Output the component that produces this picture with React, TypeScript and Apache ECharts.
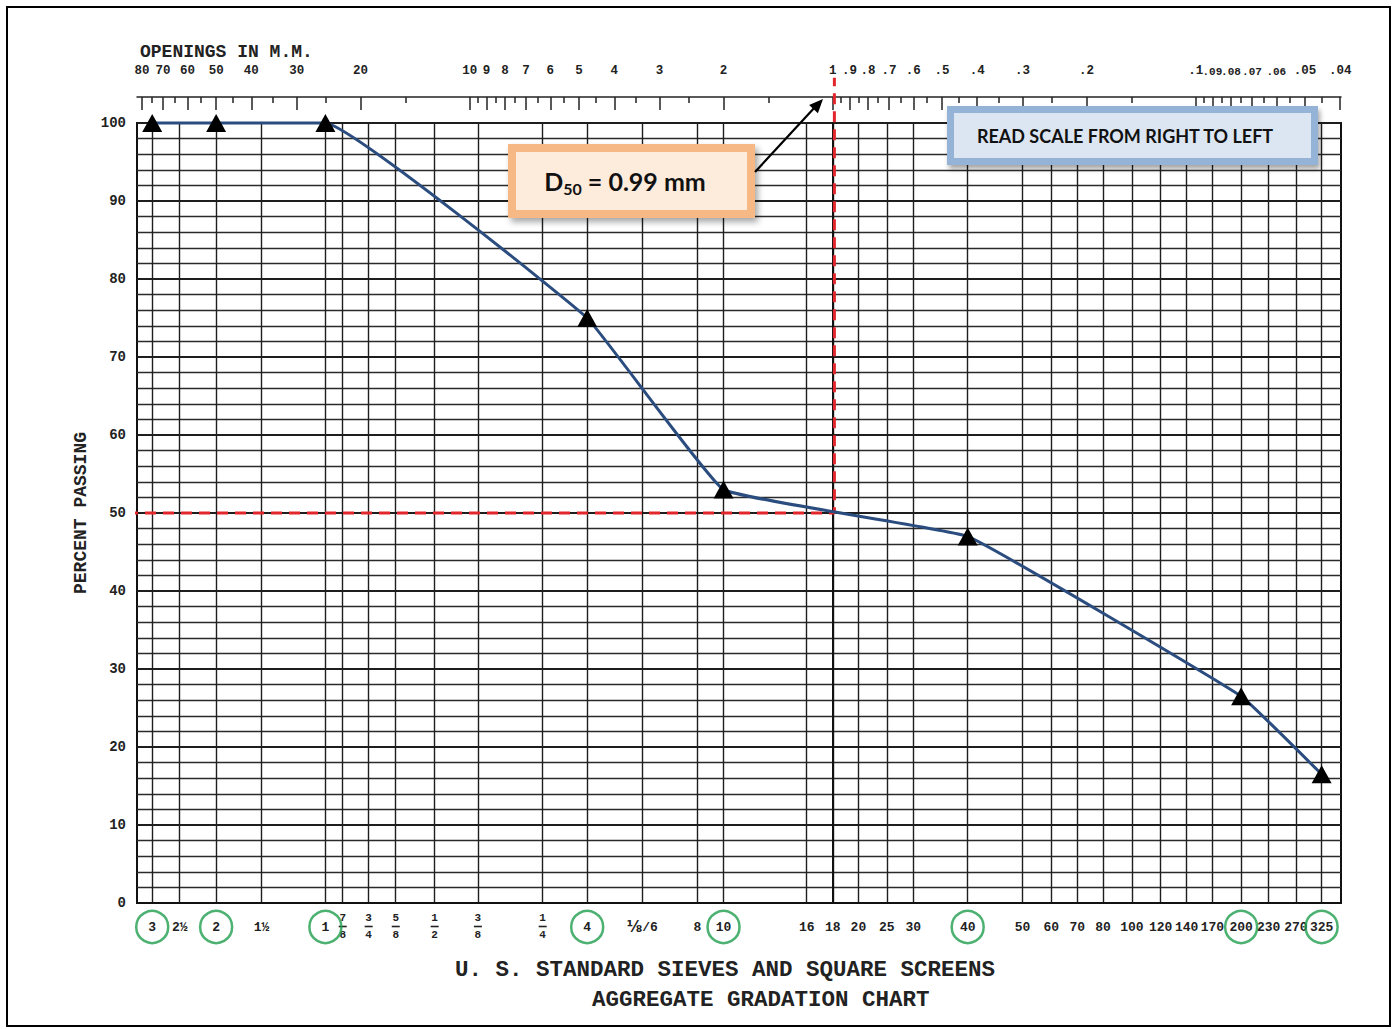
import React, { useEffect, useRef } from 'react';
import * as echarts from 'echarts';

// ---------- data ----------
const sieveLabels = ['3', '2½', '2', '1½', '1', '⅞', '¾', '⅝', '½', '⅜', '¼', '4', '⅛/6', '8', '10', '16', '18', '20', '25', '30', '40', '50', '60', '70', '80', '100', '120', '140', '170', '200', '230', '270', '325'];
const sieveOpeningsMm = [75, 63, 50, 37.5, 25, 22.4, 19, 16, 12.5, 9.5, 6.3, 4.75, 3.35, 2.36, 2.0, 1.18, 1.0, 0.85, 0.71, 0.6, 0.425, 0.3, 0.25, 0.212, 0.18, 0.15, 0.125, 0.106, 0.09, 0.075, 0.063, 0.053, 0.045];

const testedSieves = ['3', '2', '1', '4', '10', '40', '200', '325'];
const percentPassing = [100, 100, 100, 75, 53, 47, 26.5, 16.5];

const openingTicksMm = [80, 70, 60, 50, 40, 30, 20, 10, 9, 8, 7, 6, 5, 4, 3, 2, 1, 0.9, 0.8, 0.7, 0.6, 0.5, 0.4, 0.3, 0.2, 0.1, 0.09, 0.08, 0.07, 0.06, 0.05, 0.04];
const openingTickLabels = ['80', '70', '60', '50', '40', '30', '20', '10', '9', '8', '7', '6', '5', '4', '3', '2', '1', '.9', '.8', '.7', '.6', '.5', '.4', '.3', '.2', '.1', '.09', '.08', '.07', '.06', '.05', '.04'];
const openingMinorTicksMm = [75, 65, 55, 45, 35, 25, 15, 9.5, 8.5, 7.5, 6.5, 5.5, 4.5, 3.5, 2.5, 1.5, 0.95, 0.85, 0.75, 0.65, 0.55, 0.45, 0.35, 0.25, 0.15, 0.095, 0.085, 0.075, 0.065, 0.055, 0.045];
const crowdedOpeningLabels = ['.09', '.08', '.07', '.06'];

const d50Mm = 0.99;
const d50Percent = 50;
const sizeRangeMm = [0.0398, 82.6]; // finest, coarsest shown
const percentRange = [0, 100];

// stacked fractions used by the sieve labels
const fractionParts: Record<string, [string, string]> = {
  '⅞': ['7', '8'], '¾': ['3', '4'], '⅝': ['5', '8'], '½': ['1', '2'], '⅜': ['3', '8'], '¼': ['1', '4'],
};

// ---------- helpers ----------
const lg = (v: number) => Math.log10(v);
const X_MIN = lg(sizeRangeMm[0]);
const X_MAX = lg(sizeRangeMm[1]);
const key = (v: number) => v.toFixed(6);

const sieveByKey = new Map<string, string>(sieveOpeningsMm.map((mm, i) => [key(lg(mm)), sieveLabels[i]]));
const openingByKey = new Map<string, string>(openingTicksMm.map((mm, i) => [key(lg(mm)), openingTickLabels[i]]));

const MONO = '"Liberation Mono", "DejaVu Sans Mono", monospace';
const SANS = 'Lato, "Open Sans", "Noto Sans", sans-serif';
const GRID_COLOR = '#1e1e1e';

// grid geometry (px)
const GRID_TOP = 123;
const GRID_BOTTOM_Y = 903;
const LABEL_ROW_OFFSET = 24; // label row centre below the x axis
const PX_PER_PERCENT = (GRID_BOTTOM_Y - GRID_TOP) / (percentRange[1] - percentRange[0]);
const circleRowValue = percentRange[0] - LABEL_ROW_OFFSET / PX_PER_PERCENT;

const sieveLog = (s: string) => lg(sieveOpeningsMm[sieveLabels.indexOf(s)]);
const curveData = testedSieves.map((s, i) => [sieveLog(s), percentPassing[i]]);
const circleData = testedSieves.map((s) => [sieveLog(s), circleRowValue]);
const d50Data = [
  [lg(88), d50Percent],
  [lg(d50Mm), d50Percent],
  [lg(d50Mm), 105.8],
];

const baseX = {
  type: 'value' as const,
  min: X_MIN,
  max: X_MAX,
  inverse: true,
  gridIndex: 0,
};

const labelBase = { fontFamily: MONO, fontWeight: 'bold', fontSize: 13, color: '#222' };

const sieveFormatter = (v: number) => {
  const s = sieveByKey.get(key(v)) ?? '';
  if (fractionParts[s]) {
    const [a, b] = fractionParts[s];
    return `{fn|${a}}\n{fb| }\n{fd|${b}}`;
  }
  if (s === '⅛/6') return `{g|⅛}{n|/6}`;
  return `{n|${s}}`;
};

const option: any = {
  animation: false,
  backgroundColor: '#ffffff',
  textStyle: { fontFamily: MONO },
  grid: {
    left: 137,
    right: 1394 - 1341,
    top: GRID_TOP,
    bottom: 1029 - GRID_BOTTOM_Y,
    show: true,
    borderColor: '#111',
    borderWidth: 2,
    outerBoundsMode: 'none',
  },
  xAxis: [
    {
      ...baseX,
      position: 'bottom',
      axisLine: { show: true, lineStyle: { color: '#111', width: 2 } },
      axisTick: { show: false, customValues: sieveOpeningsMm.map(lg) },
      splitLine: { show: true, lineStyle: { color: GRID_COLOR, width: 1.4 } },
      axisLabel: {
        customValues: sieveOpeningsMm.map(lg),
        showMinLabel: true,
        showMaxLabel: true,
        hideOverlap: false,
        margin: 8,
        formatter: sieveFormatter,
        rich: {
          n: { ...labelBase, height: 32, lineHeight: 32, align: 'center' },
          g: { ...labelBase, fontFamily: '"DejaVu Sans", sans-serif', fontSize: 15, height: 32, lineHeight: 32 },
          fn: { ...labelBase, fontSize: 11, lineHeight: 14, height: 14, align: 'center' },
          fb: { fontSize: 1, width: 8, height: 1.6, lineHeight: 3, backgroundColor: '#222', align: 'center' },
          fd: { ...labelBase, fontSize: 11, lineHeight: 14, height: 14, align: 'center' },
        },
      },
    },
    {
      ...baseX,
      position: 'top',
      offset: 26,
      axisLine: { show: true, lineStyle: { color: '#222', width: 1.5 } },
      axisTick: { show: true, inside: true, length: 13, lineStyle: { color: '#222', width: 1.5 }, customValues: openingTicksMm.map(lg) },
      splitLine: { show: false },
      axisLabel: {
        customValues: openingTicksMm.map(lg),
        showMinLabel: true,
        showMaxLabel: true,
        margin: 20,
        ...labelBase,
        fontSize: 12.5,
        formatter: (v: number) => {
          const s = openingByKey.get(key(v)) ?? '';
          return crowdedOpeningLabels.includes(s) ? `{sm|${s}}` : s;
        },
        rich: {
          sm: { ...labelBase, fontSize: 11 },
        },
      },
    },
    {
      ...baseX,
      position: 'top',
      offset: 26,
      axisLine: { show: false },
      axisTick: { show: true, inside: true, length: 6, lineStyle: { color: '#222', width: 1.5 }, customValues: openingMinorTicksMm.map(lg) },
      splitLine: { show: false },
      axisLabel: { show: false },
    },
  ],
  yAxis: {
    type: 'value',
    min: percentRange[0],
    max: percentRange[1],
    interval: 10,
    axisLine: { show: true, lineStyle: { color: '#111', width: 2 } },
    axisTick: { show: false },
    axisLabel: { ...labelBase, fontSize: 14, margin: 11 },
    splitLine: { show: true, lineStyle: { color: GRID_COLOR, width: 2 } },
    minorTick: { show: false, splitNumber: 5 },
    minorSplitLine: { show: true, lineStyle: { color: '#2a2a2a', width: 1.3 } },
    name: 'PERCENT PASSING',
    nameLocation: 'middle',
    nameGap: 40,
    nameTextStyle: { ...labelBase, fontSize: 18 },
  },
  series: [
    {
      type: 'line',
      xAxisIndex: 0,
      yAxisIndex: 0,
      data: d50Data,
      symbol: 'none',
      clip: false,
      silent: true,
      z: 3,
      lineStyle: { color: '#e3262b', width: 3, type: [11, 7] },
    },
    {
      type: 'line',
      xAxisIndex: 0,
      yAxisIndex: 0,
      data: curveData,
      smooth: 0.08,
      clip: false,
      z: 5,
      symbol: 'triangle',
      symbolSize: [20, 18],
      itemStyle: { color: '#000' },
      lineStyle: { color: '#2b4c7e', width: 3 },
    },
    {
      type: 'scatter',
      xAxisIndex: 0,
      yAxisIndex: 0,
      data: circleData,
      clip: false,
      silent: true,
      z: 4,
      symbol: 'circle',
      symbolSize: 32,
      itemStyle: { color: 'rgba(0,0,0,0)', borderColor: '#1f9e4d', borderWidth: 2.5 },
    },
  ],
  graphic: [
    {
      type: 'rect', silent: true, z: 0,
      shape: { x: 7, y: 7, width: 1383, height: 1019 },
      style: { fill: 'none', stroke: '#000', lineWidth: 2 },
    },
    {
      type: 'text', left: 140, top: 43,
      style: { text: 'OPENINGS IN M.M.', font: `bold 18px ${MONO}`, fill: '#222' },
    },
    {
      type: 'text', left: 455, top: 958,
      style: { text: 'U. S. STANDARD SIEVES AND SQUARE SCREENS', font: `bold 22.5px ${MONO}`, fill: '#222' },
    },
    {
      type: 'text', left: 592, top: 988,
      style: { text: 'AGGREGATE GRADATION CHART', font: `bold 22.5px ${MONO}`, fill: '#222' },
    },
    // D50 callout
    {
      type: 'rect', z: 10,
      shape: { x: 512, y: 148, width: 239, height: 66 },
      style: {
        fill: '#fdebdc', stroke: '#f6b985', lineWidth: 8,
        shadowBlur: 6, shadowColor: 'rgba(0,0,0,0.35)', shadowOffsetX: 3, shadowOffsetY: 4,
      },
    },
    {
      type: 'text', z: 11, x: 625, y: 181,
      style: {
        text: '{b|D}{s|50}{b| = 0.99 mm}',
        align: 'center', verticalAlign: 'middle',
        rich: {
          b: { font: `bold 25px ${SANS}`, fill: '#111', lineHeight: 30 },
          s: { font: `bold 16px ${SANS}`, fill: '#111', lineHeight: 16, verticalAlign: 'bottom' },
        },
      },
    },
    {
      type: 'line', z: 11,
      shape: { x1: 755, y1: 172, x2: 816, y2: 106 },
      style: { stroke: '#000', lineWidth: 2.2 },
    },
    {
      type: 'polygon', z: 11,
      shape: { points: [[823, 99], [817.9, 113.3], [809.1, 105.1]] },
      style: { fill: '#000' },
    },
    // read-scale note
    {
      type: 'rect', z: 10,
      shape: { x: 950.5, y: 109.5, width: 364, height: 52 },
      style: {
        fill: '#dce6f2', stroke: '#95b3d7', lineWidth: 7,
        shadowBlur: 5, shadowColor: 'rgba(0,0,0,0.35)', shadowOffsetX: 2, shadowOffsetY: 4,
      },
    },
    {
      type: 'text', z: 11, x: 1125, y: 136,
      style: {
        text: 'READ SCALE FROM RIGHT TO LEFT',
        font: `bold 18px ${SANS}`, fill: '#111', align: 'center', verticalAlign: 'middle',
      },
    },
  ],
};

export default function App() {
  const ref = useRef<HTMLDivElement>(null);
  useEffect(() => {
    const chart = echarts.init(ref.current!, null, { renderer: 'svg' });
    chart.setOption(option);
    return () => chart.dispose();
  }, []);
  return (
    <div
      ref={ref}
      style={{ position: 'fixed', left: 0, top: 0, width: 1394, height: 1029, background: '#fff' }}
    />
  );
}
